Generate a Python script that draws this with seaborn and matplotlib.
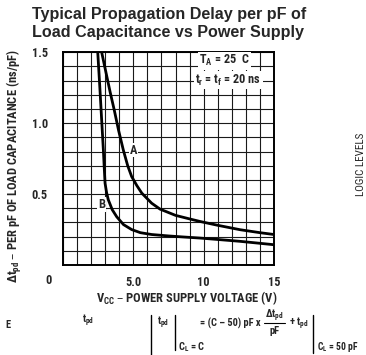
import numpy as np
import pandas as pd
import matplotlib
matplotlib.use("Agg")
import matplotlib.pyplot as plt
from matplotlib.lines import Line2D
from matplotlib import font_manager as fm
import seaborn as sns

# ---- data ----
vcc_a = [2.75, 3.05, 3.35, 3.65, 3.95, 4.29, 4.6, 4.88, 5.25, 5.6, 6.3, 6.9, 8.0, 9.0, 9.74, 11.0, 12.58, 14.0, 15.0]
tpd_a = [1.50, 1.36, 1.22, 1.09, 0.95, 0.81, 0.70, 0.624, 0.56, 0.507, 0.436, 0.394, 0.35, 0.325, 0.307, 0.28, 0.249, 0.228, 0.215]
vcc_b = [2.47, 2.62, 2.75, 2.87, 2.93, 2.99, 3.1, 3.22, 3.5, 3.82, 4.3, 4.88, 5.5, 6.3, 7.5, 8.5, 9.74, 11.0, 12.58, 14.0, 15.0]
tpd_b = [1.50, 1.25, 1.02, 0.81, 0.69, 0.577, 0.51, 0.46, 0.39, 0.34, 0.285, 0.25, 0.228, 0.215, 0.205, 0.198, 0.19, 0.18, 0.167, 0.153, 0.143]
x_ticks = [0, 5, 10, 15]
x_tick_labels = ["", "5.0", "10", "15"]
y_ticks = [0.0, 0.5, 1.0, 1.5]
y_tick_labels = ["", "0.5", "1.0", "1.5"]

df = pd.concat([
    pd.DataFrame({"vcc": vcc_a, "tpd": tpd_a, "curve": "A"}),
    pd.DataFrame({"vcc": vcc_b, "tpd": tpd_b, "curve": "B"}),
])

sns.set_style("white")

# pick a narrow / condensed face if one is installed
fonts = fm.fontManager.ttflist
names = {f.name for f in fonts}
narrow = None
for cand in ["Liberation Sans Narrow", "Roboto Condensed", "DejaVu Sans Condensed", "Open Sans Condensed"]:
    if cand in names:
        narrow = cand
        break
has_cond_dejavu = any(f.name == "DejaVu Sans" and "condensed" in str(f.stretch) for f in fonts)
if narrow:
    plt.rcParams["font.family"] = [narrow, "DejaVu Sans"]
    k = 1.0
else:
    plt.rcParams["font.family"] = ["DejaVu Sans"]
    if has_cond_dejavu:
        plt.rcParams["font.stretch"] = "condensed"
        k = 0.92
    else:
        k = 0.8
plt.rcParams["font.weight"] = "bold"
plt.rcParams["mathtext.default"] = "regular"

W, H = 366, 355
fig = plt.figure(figsize=(W / 100, H / 100), dpi=100)
ax = fig.add_axes([63 / W, 1 - 265 / H, 211 / W, 212.7 / H])

def P(px, py):
    return px / W, 1 - py / H

sns.lineplot(data=df, x="vcc", y="tpd", hue="curve", palette={"A": "black", "B": "black"},
             lw=2.0, legend=False, ax=ax, sort=True)

ax.set_xlim(0, 15)
ax.set_ylim(0, 1.5)
ax.set_xticks(x_ticks)
ax.set_xticklabels(x_tick_labels)
ax.set_yticks(y_ticks)
ax.set_yticklabels(y_tick_labels)
ax.set_xticks(np.arange(0, 16, 1), minor=True)
ax.set_yticks(np.arange(0, 1.51, 0.1), minor=True)
ax.grid(True, which="both", color="#1a1a1a", lw=0.8)
ax.tick_params(which="both", length=0)
ax.tick_params(axis="x", pad=8, labelsize=8.8 * k)
ax.tick_params(axis="y", pad=11, labelsize=8.8 * k)
for lab in ax.get_xticklabels() + ax.get_yticklabels():
    lab.set_fontweight("bold")
for s in ax.spines.values():
    s.set_color("black")
    s.set_linewidth(1.4)
ax.set_xlabel("")
ax.set_ylabel("")

ax.annotate("0", xy=(0, 0), xytext=(-14, -16), textcoords="offset pixels",
            ha="center", va="center", fontsize=8.8 * k, fontweight="bold")

wb = dict(facecolor="white", edgecolor="none", pad=1.0)
ax.text(11.5, 1.44, r"$T_A$ = 25  C", ha="center", va="center", fontsize=8.8 * k, fontweight="bold", bbox=wb)
ax.text(11.75, 1.305, r"$t_r$ = $t_f$ = 20 ns", ha="center", va="center", fontsize=8.8 * k, fontweight="bold", bbox=wb)
ax.text(5.0, 0.81, "A", ha="center", va="center", fontsize=9 * k, fontweight="bold", bbox=dict(facecolor="white", edgecolor="none", pad=0.5))
ax.text(2.75, 0.425, "B", ha="center", va="center", fontsize=9 * k, fontweight="bold", bbox=dict(facecolor="white", edgecolor="none", pad=0.5))

# titles and axis labels
tfam = ["Liberation Sans", "DejaVu Sans"]
fig.text(*P(32, 14), "Typical Propagation Delay per pF of", ha="left", va="center",
         fontsize=11.6, fontweight="bold", family=tfam, fontstretch="normal")
fig.text(*P(32, 32), "Load Capacitance vs Power Supply", ha="left", va="center",
         fontsize=11.6, fontweight="bold", family=tfam, fontstretch="normal")
fig.text(*P(15, 166), r"$\Delta t_{pd}$ – PER pF OF LOAD CAPACITANCE (ns/pF)", rotation=90,
         ha="center", va="center", fontsize=9.0 * k, fontweight="bold")
fig.text(*P(187, 298), r"$V_{CC}$ – POWER SUPPLY VOLTAGE (V)", ha="center", va="center",
         fontsize=9.0 * k, fontweight="bold")
fig.text(*P(361, 164), "LOGIC LEVELS", rotation=90, ha="center", va="center",
         fontsize=8.0 * k, fontweight="normal")

# footnote formula
fs = 7.5 * k
fig.text(*P(8, 325), "E", ha="center", va="center", fontsize=fs, fontweight="bold")
fig.text(*P(88, 321), r"$t_{pd}$", ha="center", va="center", fontsize=fs, fontweight="bold")
for (x0, y0, y1) in [(151, 315, 355), (175, 315, 350), (313, 315, 353)]:
    fig.add_artist(Line2D([x0 / W, x0 / W], [1 - y0 / H, 1 - y1 / H], color="black", lw=1.0,
                          transform=fig.transFigure))
fig.text(*P(163, 323), r"$t_{pd}$", ha="center", va="center", fontsize=fs, fontweight="bold")
fig.text(*P(178, 347), r"$C_L$ = C", ha="left", va="center", fontsize=fs, fontweight="bold")
fig.text(*P(200, 323), "= (C – 50) pF x", ha="left", va="center", fontsize=fs, fontweight="bold")
fig.text(*P(274, 316), r"$\Delta t_{pd}$", ha="center", va="center", fontsize=fs, fontweight="bold")
fig.add_artist(Line2D([264 / W, 285 / W], [1 - 323 / H, 1 - 323 / H], color="black", lw=0.8,
                      transform=fig.transFigure))
fig.text(*P(274, 331), "pF", ha="center", va="center", fontsize=fs, fontweight="bold")
fig.text(*P(289, 324), r"+ $t_{pd}$", ha="left", va="center", fontsize=fs, fontweight="bold")
fig.text(*P(317, 347), r"$C_L$ = 50 pF", ha="left", va="center", fontsize=fs * 0.92, fontweight="bold")

fig.savefig("out.png", dpi=100)
